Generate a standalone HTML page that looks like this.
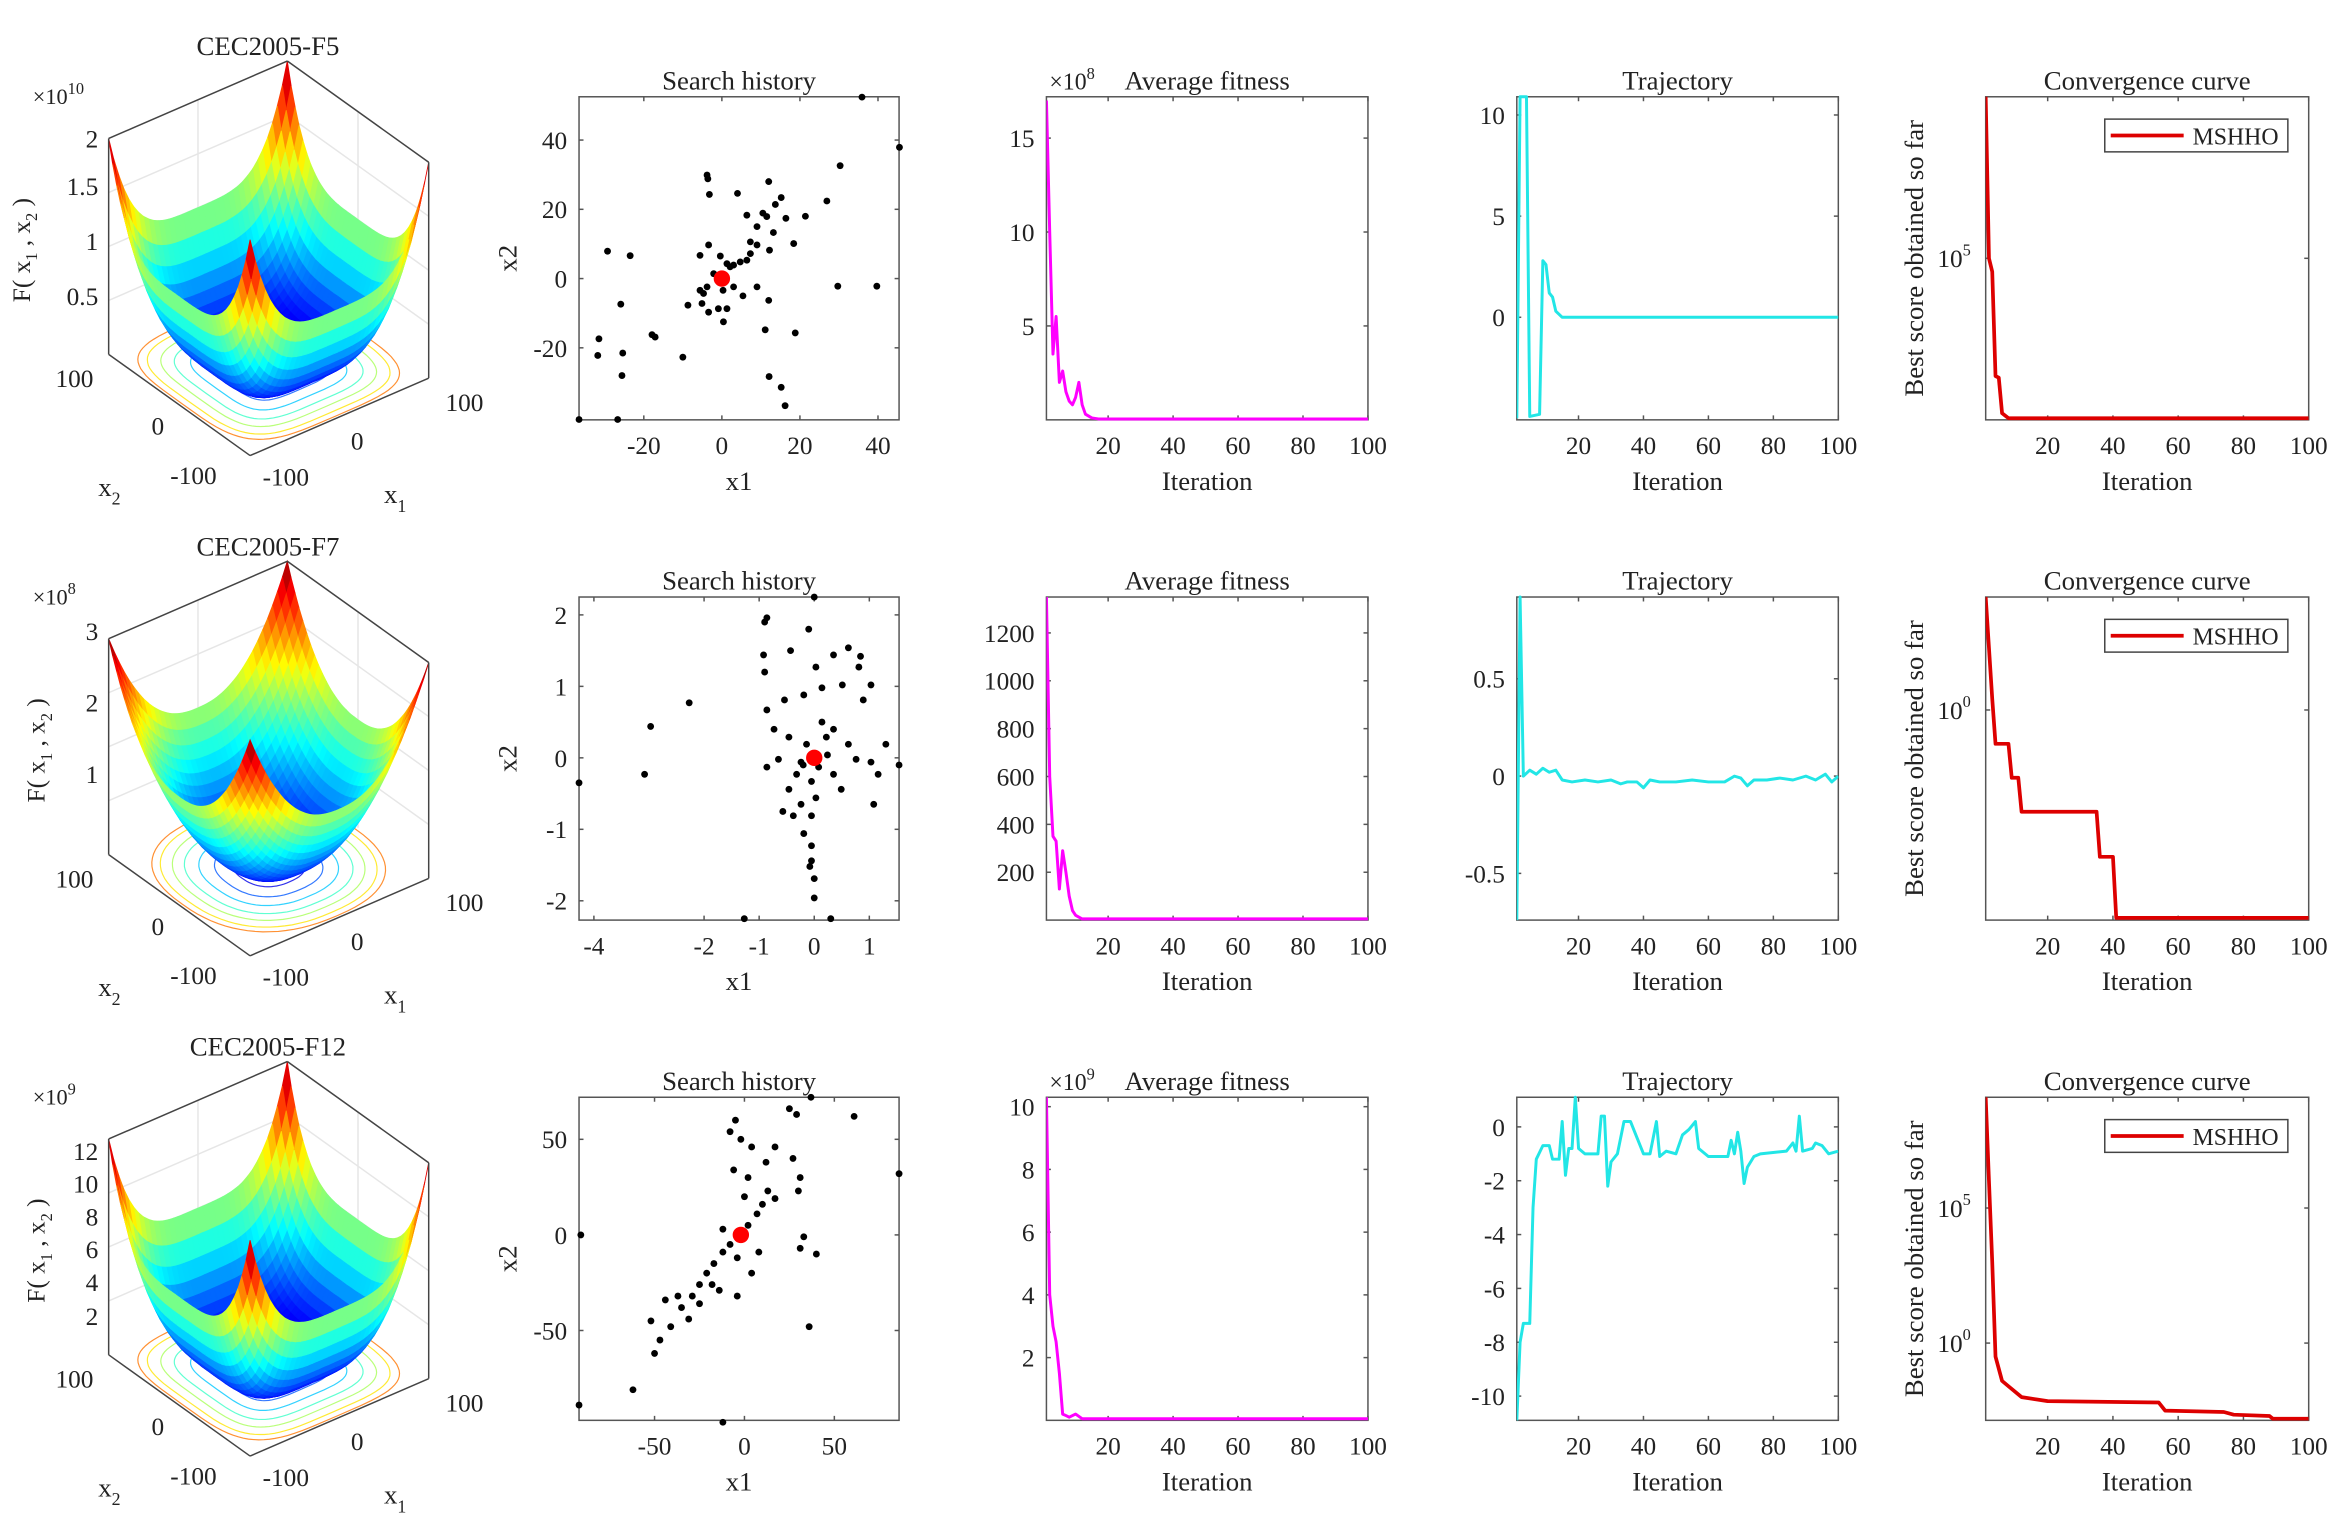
<!DOCTYPE html>
<html><head><meta charset="utf-8">
<style>
html,body{margin:0;padding:0;background:#fff;}
svg{display:block;font-family:"Liberation Serif",serif;}
</style></head>
<body>
<svg id="fig" xmlns="http://www.w3.org/2000/svg" width="2334" height="1532" viewBox="0 0 1568 1029" preserveAspectRatio="none"></svg>
<script>
// ---------- DATA ----------
const rowOffsets=[0,336,672];
const surfTitles=["CEC2005-F5","CEC2005-F7","CEC2005-F12"];
const surfExp=[4,2.4,4];
const surfMult=["10","8","9"];
const surfZTicks=[["2","1.5","1","0.5"],["3","2","1"],["12","10","8","6","4","2"]];
const surfZTickY=[[93,125,162,199],[88,136,184],[101,123,145,167,189,212]];
// search history
const shX1=[35.9,45.5,30.3,26.9,-3.8,-3.2,4,12,15.2,13.7,11.5,9,6.4,16.4,21.4,13.2,18.4,12.2,7.3,9,7.3,6.4,4.7,3,1.3,-0.4,-3.4,-5.6,-29.3,-23.5,-5.6,-3.8,3,9,5.4,0.3,-5.1,-3.4,-0.9,1.3,0.4,12,29.7,39.7,11.1,18.8,-8.7,-25.9,-17.9,-17.1,-10,-31.5,-31.8,-25.4,-25.6,12.1,15.2,16.2,-36.6,-26.7,-2.1,2.1,-4.7,-3.6,10.5];
const shY1=[52.4,37.9,32.6,22.4,29.9,24.3,24.6,28,23.4,21.4,17.9,15,18.3,17.4,18,13.3,10.1,8.2,10.6,9.7,7.2,5.3,4.8,3.9,4.3,6.5,9.7,6.7,7.9,6.6,-3.4,-2.4,-2.4,-2.4,-5,-3.4,-7.2,-9.7,-8.7,-8.7,-12.5,-6.3,-2.2,-2.2,-14.8,-15.7,-7.7,-7.4,-16.2,-16.9,-22.7,-17.4,-22.2,-21.5,-28,-28.3,-31.4,-36.7,-40.7,-40.7,1.4,3.4,-4.3,28.8,18.9];
const shX2=[-4.27,1.54,-2.97,-3.08,-2.27,-0.86,0,-1.27,0.3,-0.92,-0.43,0.03,0.35,0.62,0.84,0.81,0.51,0.14,-0.19,-0.54,-0.86,-0.73,-0.46,-0.65,-0.86,-0.32,-0.46,-0.24,-0.38,-0.05,-0.19,-0.05,-0.05,0,0,-0.08,1.08,1.3,0.89,1.03,0.35,0.62,0.76,1.03,0.35,0.49,0.22,0.14,-0.14,-0.24,-0.05,0.08,0.24,0.03,-0.57,1.16,-0.9,-0.9,-0.1,-0.2];
const shY2=[-0.35,-0.1,0.44,-0.23,0.77,1.96,2.25,-2.25,-2.25,1.44,1.5,1.27,1.44,1.54,1.42,1.27,1.02,0.98,0.88,0.81,0.67,0.4,0.29,-0.02,-0.13,-0.23,-0.44,-0.65,-0.81,-0.81,-1.06,-1.23,-1.44,-1.69,-1.96,-1.52,-0.65,0.19,0.81,1.02,0.4,0.19,-0.02,-0.06,-0.23,-0.44,0.29,0.5,0.19,-0.06,-0.33,-0.13,0.04,-0.56,-0.75,-0.23,1.9,1.2,1.8,-0.1];
const shX3=[-92,-91,86,37,61,-12,-62,-50,-47,-41,-35,-29,-25,-21,-17,-12,-8,-4,2,7,10,13,-37,-31,-18,-25,-14,25,29,-8,-2,4,-6,2,12,17,27,31,30,33,31,36,4,-4,8,-4,-12,-44,-52,17,40,-5,0];
const shY3=[-89,0,32,72,62,-98,-81,-62,-55,-48,-38,-32,-26,-20,-15,-9,-5,-1,5,11,16,23,-32,-44,-26,-36,-29,66,63,54,50,46,34,30,38,46,40,30,23,-1,-7,-48,-20,-32,-9,-12,3,-34,-45,19,-10,60,20];
const shBest=[[0,0],[0,0],[-2,0]];
// average fitness
const afIt1=[1,2,3,4,5,6,7,8,9,10,11,12,13,15,17,100];
const afV1=[17,10,3.5,5.5,2,2.6,1.5,1,0.8,1.2,2,0.8,0.3,0.1,0.05,0.05];
const afIt2=[1,2,3,4,5,6,7,8,9,10,12,100];
const afV2=[1350,600,350,330,130,290,200,100,40,20,5,5];
const afIt3=[1,2,3,4,5,6,7,8,10,12,100];
const afV3=[10.3,4,3,2.5,1.5,0.2,0.15,0.1,0.2,0.05,0.05];
// trajectory
const trIt1=[1,2,4,5,8,9,10,11,12,13,15,100];
const trV1=[-5,10.9,10.9,-4.9,-4.8,2.8,2.6,1.2,1,0.3,0,0];
const trIt2=[1,2,3,5,7,9,11,13,15,18,22,26,30,33,35,38,40,42,45,50,55,60,65,68,70,72,74,78,82,86,90,93,96,98,100];
const trV2=[-0.74,0.92,0,0.03,0.01,0.04,0.02,0.03,-0.02,-0.03,-0.02,-0.03,-0.02,-0.04,-0.03,-0.03,-0.06,-0.02,-0.03,-0.03,-0.02,-0.03,-0.03,0,-0.01,-0.05,-0.02,-0.02,-0.01,-0.02,0,-0.02,0.01,-0.03,0];
const trIt3=[1,2,3,5,6,7,9,11,12,14,15,16,17,18,19,20,22,26,27,28,29,30,32,34,36,38,39,40,42,44,45,47,50,52,54,56,57,60,66,67,68,69,70,71,72,74,76,84,86,87,88,89,92,93,95,97,100];
const trV3=[-10.9,-8,-7.3,-7.3,-3,-1.2,-0.7,-0.7,-1.2,-1.2,0.2,-1.8,-0.8,-0.8,1.1,-0.8,-1,-1,0.4,0.4,-2.2,-1.3,-1,0.2,0.2,-0.4,-0.7,-1,-1,0.2,-1.1,-0.9,-1,-0.3,-0.1,0.2,-0.8,-1.1,-1.1,-0.5,-1,-0.2,-0.9,-2.1,-1.5,-1.1,-1,-0.9,-0.6,-0.9,0.4,-0.9,-0.8,-0.6,-0.7,-1,-0.9];
// convergence (log10 of best score)
const cvIt1=[1,2,3,4,5,6,8,100];
const cvV1=[9.8,5.0,4.6,1.5,1.45,0.4,0.25,0.25];
const cvIt2=[1,3,4,8,9,11,12,35,36,40,41,100];
const cvV2=[1.0,0.1,-0.3,-0.3,-0.6,-0.6,-0.9,-0.9,-1.3,-1.3,-1.84,-1.84];
const cvIt3=[1,2,3,4,6,8,12,20,54,56,74,77,88,89,100];
const cvV3=[9.1,6,3,-0.5,-1.4,-1.6,-2.0,-2.15,-2.2,-2.5,-2.55,-2.65,-2.7,-2.8,-2.8];

// ---------- DRAW ----------
const NS='http://www.w3.org/2000/svg';
const svg=document.getElementById('fig');
function mk(tag,attrs,parent){const e=document.createElementNS(NS,tag);for(const k in attrs)e.setAttribute(k,attrs[k]);(parent||svg).appendChild(e);return e;}
function txt(s,x,y,size,anchor,parent){const t=mk('text',{x:x,y:y,'font-size':size,'text-anchor':anchor||'middle',fill:'#222'},parent);t.textContent=s;return t;}
function jet(t){t=Math.max(0,Math.min(1,t));const r=Math.max(0,Math.min(1,1.5-Math.abs(4*t-3))),g=Math.max(0,Math.min(1,1.5-Math.abs(4*t-2))),b=Math.max(0,Math.min(1,1.5-Math.abs(4*t-1)));return 'rgb('+Math.round(r*255)+','+Math.round(g*255)+','+Math.round(b*255)+')';}

function axes(p){
  const g=mk('g',{});
  
  
  const sx=v=>p.x0+(v-p.xmin)/(p.xmax-p.xmin)*p.w;
  const sy=v=>p.y0+p.h-(v-p.ymin)/(p.ymax-p.ymin)*p.h;
  const box=mk('rect',{x:p.x0,y:p.y0,width:p.w,height:p.h,fill:'#fff',stroke:'#555','stroke-width':1},g);
  
  
  p.xt.forEach(v=>{const X=sx(v);mk('line',{x1:X,y1:p.y0+p.h,x2:X,y2:p.y0+p.h-3,stroke:'#555'},g);mk('line',{x1:X,y1:p.y0,x2:X,y2:p.y0+3,stroke:'#555'},g);
    const t=txt(String(v),X,p.y0+p.h+23,17,'middle',g);});
  p.yt.forEach((v,i)=>{const Y=sy(v);mk('line',{x1:p.x0,y1:Y,x2:p.x0+3,y2:Y,stroke:'#555'},g);mk('line',{x1:p.x0+p.w,y1:Y,x2:p.x0+p.w-3,y2:Y,stroke:'#555'},g);
    if(p.ylog){const t=mk('text',{x:p.x0-10,y:Y+6,'font-size':17,'text-anchor':'end',fill:'#222'},g);t.textContent='10';const s=mk('tspan',{dy:-8,'font-size':11},t);s.textContent=p.ytl[i];}
    else{const t=txt(p.ytl?p.ytl[i]:String(v),p.x0-8,Y+6,17,'end',g);}});
  const ti=txt(p.title,p.tx||p.x0+p.w/2,p.y0-5,18,'middle',g);
  const xl=txt(p.xlabel,p.x0+p.w/2,p.y0+p.h+47,18,'middle',g);
  if(p.ylabel){const yl=txt(p.ylabel,0,0,18,'middle',g);yl.setAttribute('transform','translate('+p.ylx+','+(p.y0+p.h/2)+') rotate(-90)');}
  if(p.mult){const m=mk('text',{x:p.x0+2,y:p.y0-5,'font-size':16,'text-anchor':'start',fill:'#222'},g);m.textContent='×10';const s=mk('tspan',{dy:-7,'font-size':11},m);s.textContent=p.mult;}
  const clip='c'+Math.round(p.x0)+'_'+Math.round(p.y0);
  const cp=mk('clipPath',{id:clip},g);mk('rect',{x:p.x0,y:p.y0-2,width:p.w,height:p.h+4},cp);
  return {g,sx,sy,clip};
}
function line(a,xs,ys,color,w,name){
  const pts=xs.map((x,i)=>a.sx(x).toFixed(1)+','+a.sy(ys[i]).toFixed(1)).join(' ');
  const pl=mk('polyline',{points:pts,fill:'none',stroke:color,'stroke-width':w,'stroke-linejoin':'round','clip-path':'url(#'+a.clip+')'},a.g);
  
  
}

const shXs=[shX1,shX2,shX3],shYs=[shY1,shY2,shY3];
const shCfg=[{xmin:-36.6,xmax:45.4,ymin:-40.8,ymax:52.5,xt:[-20,0,20,40],yt:[-20,0,20,40]},
             {xmin:-4.27,xmax:1.54,ymin:-2.27,ymax:2.25,xt:[-4,-2,-1,0,1],yt:[-2,-1,0,1,2]},
             {xmin:-92,xmax:86,ymin:-97,ymax:72,xt:[-50,0,50],yt:[-50,0,50]}];
const afCfg=[{ymin:0,ymax:17.2,yt:[5,10,15],mult:'8'},{ymin:0,ymax:1350,yt:[200,400,600,800,1000,1200]},{ymin:0,ymax:10.3,yt:[2,4,6,8,10],mult:'9'}];
const afIts=[afIt1,afIt2,afIt3],afVs=[afV1,afV2,afV3];
const trIts=[trIt1,trIt2,trIt3],trVs=[trV1,trV2,trV3];
const trCfg=[{ymin:-5.07,ymax:10.9,yt:[0,5,10]},{ymin:-0.74,ymax:0.92,yt:[-0.5,0,0.5]},{ymin:-10.9,ymax:1.1,yt:[-10,-8,-6,-4,-2,0]}];
const cvIts=[cvIt1,cvIt2,cvIt3],cvVs=[cvV1,cvV2,cvV3];
const cvCfg=[{ymin:0.2,ymax:9.8,yt:[5],ytl:['5']},{ymin:-1.86,ymax:1.0,yt:[0],ytl:['0']},{ymin:-2.86,ymax:9.1,yt:[0,5],ytl:['0','5']}];

for(let r=0;r<3;r++){
  const oy=rowOffsets[r];
  const c=shCfg[r];
  const a=axes(Object.assign({name:'search-history-r'+(r+1),x0:389,y0:65+oy,w:215,h:217,title:'Search history',xlabel:'x1',ylabel:'x2',ylx:347},c));
  shXs[r].forEach((x,i)=>{const d=mk('circle',{cx:a.sx(x),cy:a.sy(shYs[r][i]),r:2.3,fill:'#000'},a.g);});
  const b=mk('circle',{cx:a.sx(shBest[r][0]),cy:a.sy(shBest[r][1]),r:5.5,fill:'#f00'},a.g);
  
  
  const af=axes(Object.assign({name:'average-fitness-r'+(r+1),x0:703,y0:65+oy,w:216,h:217,xmin:1,xmax:100,xt:[20,40,60,80,100],title:'Average fitness',xlabel:'Iteration',tx:811},afCfg[r]));
  line(af,afIts[r],afVs[r],'#ff00ff',2,'average-fitness-line');
  const tr=axes(Object.assign({name:'trajectory-r'+(r+1),x0:1019,y0:65+oy,w:216,h:217,xmin:1,xmax:100,xt:[20,40,60,80,100],title:'Trajectory',xlabel:'Iteration'},trCfg[r]));
  line(tr,trIts[r],trVs[r],'#22e6e6',2,'trajectory-line');
  const cv=axes(Object.assign({name:'convergence-curve-r'+(r+1),x0:1334,y0:65+oy,w:217,h:217,xmin:1,xmax:100,xt:[20,40,60,80,100],ylog:true,title:'Convergence curve',xlabel:'Iteration',ylabel:'Best score obtained so far',ylx:1292},cvCfg[r]));
  line(cv,cvIts[r],cvVs[r],'#dd0000',2.5,'convergence-line');
  const lg=mk('g',{},cv.g);
  
  
  mk('rect',{x:1414,y:80+oy,width:123,height:22,fill:'#fff',stroke:'#444','stroke-width':1},lg);
  mk('line',{x1:1418,y1:91+oy,x2:1467,y2:91+oy,stroke:'#dd0000','stroke-width':2.5},lg);
  const lt=txt('MSHHO',1473,97+oy,16,'start',lg);
  
  

  // 3D surface
  const sg=mk('g',{});
  
  
  const F=[168,306+oy],R=[120,-52],L=[-95,-68],ZH=145;
  const P=(u,v,z)=>[F[0]+(u+1)/2*R[0]+(v+1)/2*L[0],F[1]+(u+1)/2*R[1]+(v+1)/2*L[1]-z*ZH];
  const ex=surfExp[r];
  const f=(u,v)=>(Math.pow(Math.abs(u),ex)+Math.pow(Math.abs(v),ex))/2;
  const pp=a=>a[0].toFixed(1)+','+a[1].toFixed(1);
  for(let k=1;k<=4;k++){const z=k/4;mk('polyline',{points:[P(-1,1,z),P(1,1,z),P(1,-1,z)].map(pp).join(' '),fill:'none',stroke:'#e6e6e6'},sg);}
  mk('line',{x1:P(0,1,0)[0],y1:P(0,1,0)[1],x2:P(0,1,1)[0],y2:P(0,1,1)[1],stroke:'#e6e6e6'},sg);
  mk('line',{x1:P(1,0,0)[0],y1:P(1,0,0)[1],x2:P(1,0,1)[0],y2:P(1,0,1)[1],stroke:'#e6e6e6'},sg);
  [0.3,0.45,0.58,0.7,0.8,0.9,0.97].forEach((s,k)=>{const pts=[];for(let i=0;i<=80;i++){const t=i/80*2*Math.PI,cs=Math.cos(t),sn=Math.sin(t);
    const u=Math.sign(cs)*Math.pow(Math.abs(cs),2/ex)*s,v=Math.sign(sn)*Math.pow(Math.abs(sn),2/ex)*s;
    pts.push(pp(P(u,v,0)));}
    const cc=mk('polyline',{points:pts.join(' '),fill:'none',stroke:jet(0.1+k*0.11),'stroke-width':0.8,opacity:0.8},sg);
    
    });
  const N=36,quads=[];
  for(let i=0;i<N;i++)for(let j=0;j<N;j++){const u0=-1+2*i/N,u1=-1+2*(i+1)/N,v0=-1+2*j/N,v1=-1+2*(j+1)/N;
    const zc=f((u0+u1)/2,(v0+v1)/2);quads.push({d:(u0+u1+v0+v1),pts:[P(u0,v0,f(u0,v0)),P(u1,v0,f(u1,v0)),P(u1,v1,f(u1,v1)),P(u0,v1,f(u0,v1))],z:zc});}
  quads.sort((a,b)=>b.d-a.d);
  quads.forEach(q=>{const col=jet(0.08+q.z*0.92);const pg=mk('polygon',{points:q.pts.map(pp).join(' '),fill:col,stroke:col,'stroke-width':0.6},sg);
    
    });
  const E=[[P(-1,1,0),P(-1,1,1)],[P(1,-1,0),P(1,-1,1)],[P(-1,1,1),P(1,1,1)],[P(1,1,1),P(1,-1,1)],[P(-1,1,0),P(-1,-1,0)],[P(-1,-1,0),P(1,-1,0)]];
  E.forEach(e=>mk('line',{x1:e[0][0],y1:e[0][1],x2:e[1][0],y2:e[1][1],stroke:'#444','stroke-width':1},sg));
  const st=txt(surfTitles[r],180,37+oy,18,'middle',sg);
  
  
  const mu=mk('text',{x:22,y:70+oy,'font-size':15,fill:'#222'},sg);mu.textContent='×10';const ms=mk('tspan',{dy:-7,'font-size':11},mu);ms.textContent=surfMult[r];
  
  
  surfZTicks[r].forEach((s,i)=>{const t=txt(s,66,surfZTickY[r][i]+6+oy,17,'end',sg);});
  [['100',50,260],['0',106,292],['-100',130,325],['100',312,276],['0',240,302],['-100',192,326]].forEach(a=>{const t=txt(a[0],a[1],a[2]+oy,17,'middle',sg);});
  const x2l=mk('text',{x:66,y:333+oy,'font-size':18,fill:'#222'},sg);x2l.textContent='x';const x2s=mk('tspan',{dy:6,'font-size':12},x2l);x2s.textContent='2';
  
  
  const x1l=mk('text',{x:258,y:338+oy,'font-size':18,fill:'#222'},sg);x1l.textContent='x';const x1s=mk('tspan',{dy:6,'font-size':12},x1l);x1s.textContent='1';
  
  
  const zl=mk('text',{x:0,y:0,'font-size':17,'text-anchor':'middle',fill:'#222',transform:'translate('+(r==0?20:30)+','+(168+oy)+') rotate(-90)'},sg);
  zl.textContent='F( x';const z1=mk('tspan',{dy:5,'font-size':11},zl);z1.textContent='1';const z2=mk('tspan',{dy:-5},zl);z2.textContent=' , x';const z3=mk('tspan',{dy:5,'font-size':11},zl);z3.textContent='2';const z4=mk('tspan',{dy:-5},zl);z4.textContent=' )';
  
  
}
</script>
</body></html>
